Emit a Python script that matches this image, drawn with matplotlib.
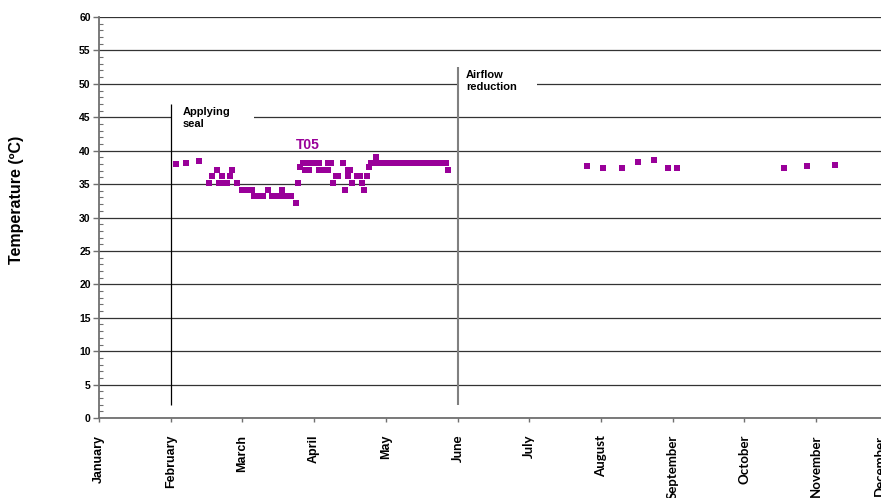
import calendar
import matplotlib
matplotlib.use("Agg")
import matplotlib.pyplot as plt
from matplotlib.patches import Rectangle
from matplotlib.ticker import MultipleLocator
from matplotlib.transforms import ScaledTranslation

# ---- data -------------------------------------------------------------
months = ["January", "February", "March", "April", "May", "June", "July",
          "August", "September", "October", "November", "December"]

# T05 readings (MM-DD, temperature in degC)
t05_dates = [
    "02-03", "02-07", "02-12", "02-16", "02-17", "02-19", "02-20", "02-21",
    "02-21", "02-22", "02-23", "02-24", "02-25", "02-27",
    "03-01", "03-02", "03-03", "03-04", "03-05",
    "03-06", "03-07", "03-08", "03-09", "03-10",
    "03-12",
    "03-14", "03-15", "03-16", "03-17", "03-18", "03-19", "03-20", "03-21", "03-22",
    "03-18", "03-24", "03-25", "03-26",
    "03-27", "03-28", "03-29", "03-30", "03-31", "04-01", "04-02", "04-03",
    "03-28", "03-29", "03-30",
    "04-03", "04-04", "04-05", "04-06", "04-07",
    "04-07", "04-08", "04-09", "04-10", "04-11", "04-13", "04-14",
    "04-15", "04-16", "04-15", "04-17", "04-19", "04-20", "04-21", "04-22",
    "04-23", "04-24",
    "04-25", "04-26", "04-27", "04-28", "04-29", "04-30",
    "05-01", "05-02", "05-03", "05-04", "05-05", "05-06", "05-07", "05-08",
    "05-09", "05-10", "05-11", "05-12", "05-13", "05-14", "05-15", "05-16",
    "05-17", "05-18", "05-19", "05-20", "05-21", "05-22", "05-23", "05-24",
    "05-25", "05-26", "05-27",
    "04-27", "05-28",
    "07-26", "08-02", "08-10", "08-17", "08-24", "08-30", "09-03",
    "10-18", "10-28", "11-09",
]
t05_temps = [
    38.0, 38.2, 38.4, 35.2, 36.2, 37.1, 35.2, 35.2,
    36.2, 35.2, 35.2, 36.2, 37.1, 35.2,
    34.1, 34.1, 34.1, 34.1, 34.1,
    33.2, 33.2, 33.2, 33.2, 33.2,
    34.1,
    33.2, 33.2, 33.2, 33.2, 33.2, 33.2, 33.2, 33.2, 33.2,
    34.1, 32.2, 35.2, 37.5,
    38.2, 38.2, 38.2, 38.2, 38.2, 38.2, 38.2, 38.2,
    37.1, 37.1, 37.1,
    37.1, 37.1, 37.1, 37.1, 37.1,
    38.2, 38.2, 35.2, 36.2, 36.2, 38.2, 34.1,
    37.1, 37.1, 36.2, 35.2, 36.2, 36.2, 35.2, 34.1,
    36.2, 37.6,
    38.2, 38.2, 38.2, 38.2, 38.2, 38.2,
    38.2, 38.2, 38.2, 38.2, 38.2, 38.2, 38.2, 38.2,
    38.2, 38.2, 38.2, 38.2, 38.2, 38.2, 38.2, 38.2,
    38.2, 38.2, 38.2, 38.2, 38.2, 38.2, 38.2, 38.2,
    38.2, 38.2, 38.2,
    39.0, 37.1,
    37.7, 37.4, 37.4, 38.3, 38.6, 37.4, 37.4,
    37.4, 37.7, 37.9,
]

# events marked with vertical lines
event_dates = ["02-01", "06-01"]
event_labels = ["Applying\nseal", "Airflow\nreduction"]


def month_pos(mmdd):
    """Position on the month axis: month index plus fraction of that month."""
    m, d = (int(v) for v in mmdd.split("-"))
    return (m - 1) + (d - 1) / calendar.monthrange(2021, m)[1]


x = [month_pos(s) for s in t05_dates]
ev_x = [month_pos(s) for s in event_dates]

# ---- figure -----------------------------------------------------------
purple = "#990099"
arial = "Liberation Sans"

fig = plt.figure(figsize=(8.81, 4.98), dpi=100)
ax = fig.add_axes([0.1124, 0.1606, 0.8952, 0.8052])

ax.set_xlim(0, 11)
ax.set_ylim(0, 60)

ax.set_axisbelow(True)
ax.yaxis.set_major_locator(MultipleLocator(5))
ax.yaxis.set_minor_locator(MultipleLocator(1))
ax.grid(axis="y", which="major", color="#333333", linewidth=0.9)

for side in ("top", "right"):
    ax.spines[side].set_visible(False)
for side in ("left", "bottom"):
    ax.spines[side].set_color("#707070")
    ax.spines[side].set_linewidth(1.3)

ax.tick_params(axis="y", which="major", direction="out", length=4,
               width=1, color="#707070", pad=2)
ax.tick_params(axis="y", which="minor", direction="in", length=3,
               width=0.8, color="#707070")
ax.tick_params(axis="x", which="major", direction="out", length=3,
               width=1, color="#707070", pad=9)

ax.set_yticks(range(0, 61, 5))
ax.set_yticklabels([str(v) for v in range(0, 61, 5)],
                   fontfamily=arial, fontweight="bold", fontsize=7.5)

ax.set_xticks(range(len(months)))
ax.set_xticklabels(months, rotation=90, fontweight="bold", va="top")
for i, lab in enumerate(ax.get_xticklabels()):
    if i < 5:
        lab.set_fontfamily(arial)
        lab.set_fontsize(9)
    else:
        lab.set_fontfamily("Lato")
        lab.set_fontsize(9.5)
# the last month label sits at the figure edge; pull it slightly inward
last = ax.get_xticklabels()[-1]
last.set_transform(last.get_transform()
                   + ScaledTranslation(-8 / 100, 0, fig.dpi_scale_trans))

fig.text(17 / 881, 0.598, "Temperature (ºC)", rotation=90, ha="center",
         va="center", fontfamily=arial, fontweight="bold", fontsize=11.5)

# event text boxes (white background breaking the gridlines)
ax.add_patch(Rectangle((ev_x[0] + 0.005, 42.3), 1.155, 4.8,
                       facecolor="white", edgecolor="none", zorder=1))
ax.add_patch(Rectangle((ev_x[1] + 0.01, 47.5), 1.1, 5.0,
                       facecolor="white", edgecolor="none", zorder=1))
ax.text(ev_x[0] + 0.165, 46.6, event_labels[0], ha="left", va="top",
        fontfamily=arial, fontweight="bold", fontsize=8, linespacing=1.25,
        zorder=2)
ax.text(ev_x[1] + 0.12, 52.0, event_labels[1], ha="left", va="top",
        fontfamily=arial, fontweight="bold", fontsize=8, linespacing=1.25,
        zorder=2)

ax.vlines(ev_x[0], 1.9, 47.0, color="black", linewidth=0.9, zorder=2)
ax.vlines(ev_x[1], 1.9, 52.5, color="#808080", linewidth=1.5, zorder=2)

# series
ax.plot(x, t05_temps, linestyle="none", marker="s", markersize=4.0,
        markeredgewidth=0, color=purple, zorder=3)
ax.text(2.75, 40.3, "T05", color=purple, fontfamily=arial,
        fontweight="bold", fontsize=10, va="baseline", ha="left", zorder=3)

fig.savefig("out.png", dpi=100)
